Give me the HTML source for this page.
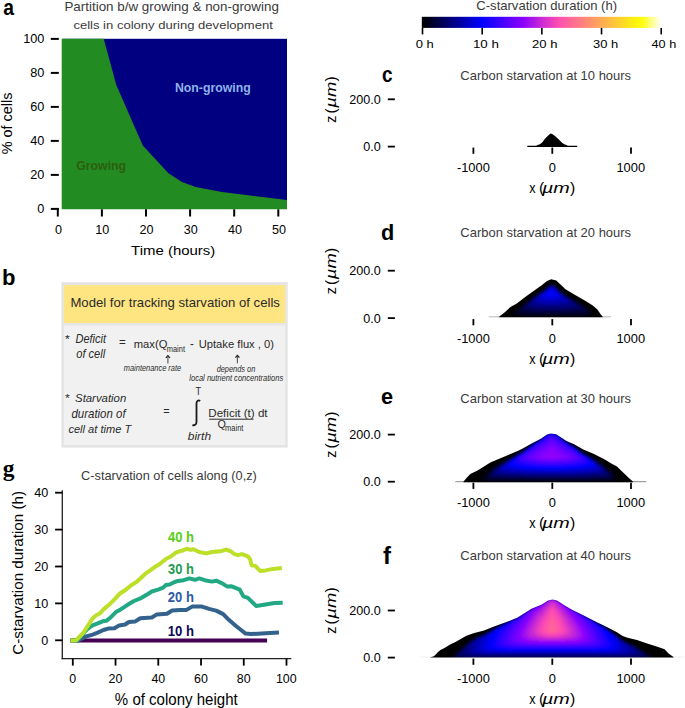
<!DOCTYPE html>
<html><head><meta charset="utf-8"><style>
html,body{margin:0;padding:0;background:#fff;}
svg{display:block;font-family:"Liberation Sans",sans-serif;}
</style></head><body>
<svg width="685" height="708" viewBox="0 0 685 708">
<defs><filter id="cblur" x="-5%" y="-20%" width="110%" height="140%"><feGaussianBlur stdDeviation="0.8"/></filter>
<clipPath id="clipc"><polygon points="536.0,146.4 537.3,145.1 540.0,144.2 542.6,142.0 544.3,139.4 547.4,136.3 550.5,133.4 552.2,134.0 555.3,136.3 558.8,139.4 562.3,142.9 564.9,144.6 567.1,145.3 567.5,146.4 567.5,147.0 536.0,147.0"/></clipPath>
<clipPath id="clipd"><polygon points="499.2,316.6 502.0,314.5 505.1,312.0 510.1,307.3 516.8,303.6 525.2,296.9 533.6,291.0 542.0,285.1 547.0,280.9 551.2,279.2 556.3,280.4 562.1,286.0 565.5,289.3 575.6,295.2 585.6,301.1 592.4,305.3 597.4,309.4 600.8,314.5 602.6,316.6 602.6,317.2 499.2,317.2"/></clipPath>
<clipPath id="clipe"><polygon points="463.4,481.7 466.5,477.9 470.3,474.0 478.0,470.2 490.3,462.6 501.0,458.0 511.7,453.4 520.9,449.5 531.6,443.4 540.8,438.8 547.0,434.5 550.8,433.4 556.2,434.2 561.9,438.0 566.5,441.1 574.1,444.2 583.3,449.5 594.0,454.1 604.8,459.5 610.9,463.3 617.0,466.4 621.6,471.0 627.8,477.1 633.1,481.7 633.1,482.2 463.4,482.2"/></clipPath>
<clipPath id="clipf"><polygon points="430.5,657.2 434.0,656.3 437.5,652.6 440.4,649.9 444.5,647.9 450.6,644.2 455.0,642.3 458.5,640.3 466.4,635.7 474.3,633.0 484.1,630.4 494.0,626.5 507.8,621.5 517.6,617.6 531.4,608.7 541.3,604.8 545.0,602.6 548.0,600.6 552.5,599.6 557.0,600.4 560.2,602.6 564.4,605.3 571.6,609.4 581.8,614.5 594.0,620.7 606.3,626.8 616.5,631.9 622.7,636.0 626.7,637.4 637.0,640.1 647.2,643.5 657.4,646.8 664.6,649.3 668.6,653.4 673.8,657.2 673.8,657.6 430.5,657.6"/></clipPath>
</defs>
<line x1="527.3" y1="146.4" x2="577.2" y2="146.4" stroke="#000" stroke-width="1.2"/>
<polygon points="536.0,146.4 537.3,145.1 540.0,144.2 542.6,142.0 544.3,139.4 547.4,136.3 550.5,133.4 552.2,134.0 555.3,136.3 558.8,139.4 562.3,142.9 564.9,144.6 567.1,145.3 567.5,146.4 567.5,147.0 536.0,147.0" fill="#000"/>
<line x1="488.8" y1="316.8" x2="611.0" y2="316.8" stroke="#b8b8b8" stroke-width="1.0"/>
<g clip-path="url(#clipd)"><g filter="url(#cblur)"><rect x="497.2" y="277.2" width="107.40000000000003" height="42.0" fill="#000004"/><path fill-rule="evenodd" fill="#000010" d="M511.9,314.4 512.1,315.4 514.1,315.9 576.4,316.1 591.1,315.9 592.9,315.4 593.1,313.6 592.1,312.1 588.4,308.6 562.9,292.9 554.1,284.6 552.9,284.1 551.1,284.1 548.4,285.6 543.9,289.4 529.9,299.4 518.9,308.4 513.9,311.4 512.9,312.4Z"/><path fill-rule="evenodd" fill="#000020" d="M514.1,312.9 514.1,314.1 514.6,314.4 521.9,314.9 584.4,314.9 590.6,314.4 591.1,313.9 590.9,312.4 588.1,309.4 578.1,302.6 562.9,293.4 553.9,284.9 551.9,284.4 549.4,285.4 543.9,289.9 532.9,297.6 519.4,308.9 515.9,311.1Z"/><path fill-rule="evenodd" fill="#00002c" d="M516.6,312.1 516.6,312.9 518.6,313.4 527.9,313.9 577.9,313.9 587.4,313.4 589.1,312.9 589.1,311.6 586.1,308.6 577.4,302.6 563.1,293.9 554.4,285.6 552.9,284.9 551.1,284.9 549.6,285.6 544.4,289.9 535.4,296.1 525.4,304.1Z"/><path fill-rule="evenodd" fill="#000038" d="M519.1,311.1 519.1,311.6 520.9,312.1 532.6,312.9 572.1,312.9 583.1,312.4 587.1,311.6 586.9,310.4 583.6,307.4 562.6,293.9 555.9,287.4 552.9,285.1 551.1,285.1 549.6,285.9 544.1,290.4 536.1,295.9 525.4,304.6Z"/><path fill-rule="evenodd" fill="#000044" d="M521.6,309.6 521.9,310.6 524.4,311.1 536.9,311.9 574.9,311.6 581.6,311.1 584.9,310.4 584.4,308.9 582.1,306.9 562.6,294.1 556.1,287.9 552.9,285.4 551.1,285.4 549.6,286.1 544.1,290.6 535.9,296.4 527.6,303.1 522.1,308.6Z"/><path fill-rule="evenodd" fill="#000050" d="M523.4,308.4 523.6,309.4 527.4,310.1 541.4,310.9 570.9,310.6 580.1,309.9 582.6,309.1 582.6,308.4 577.6,304.1 562.6,294.4 553.1,285.6 551.1,285.6 549.6,286.4 544.1,290.9 536.9,295.9 528.1,303.1Z"/><path fill-rule="evenodd" fill="#000060" d="M525.1,307.4 525.4,308.1 529.9,309.1 545.6,309.9 571.9,309.4 578.1,308.6 580.4,307.9 580.1,306.9 577.6,304.6 562.6,294.6 553.9,286.4 552.4,285.6 549.6,286.6 544.1,291.1 537.9,295.4 528.6,303.1 526.6,305.1Z"/><path fill-rule="evenodd" fill="#00006c" d="M526.9,306.6 527.6,307.1 532.6,308.1 550.1,308.9 568.4,308.4 575.1,307.6 578.1,306.6 577.6,305.4 575.6,303.6 562.6,294.9 558.9,291.6 556.4,288.9 552.6,285.9 551.6,285.9 549.6,286.9 546.1,289.9 536.6,296.6 531.9,300.6 527.4,305.1Z"/><path fill-rule="evenodd" fill="#000078" d="M528.6,304.9 529.1,305.9 533.1,306.9 542.6,307.6 565.1,307.4 572.1,306.6 575.9,305.4 575.9,304.9 573.9,302.9 561.6,294.4 553.9,286.9 552.6,286.1 551.4,286.1 550.4,286.6 545.1,290.9 538.9,295.1 532.6,300.4 529.4,303.6Z"/><path fill-rule="evenodd" fill="#000084" d="M530.4,303.6 530.4,304.4 534.1,305.6 545.6,306.6 556.4,306.6 565.4,306.1 570.6,305.4 573.6,304.4 573.6,303.6 571.6,301.6 561.6,294.6 552.9,286.4 551.4,286.4 550.4,286.9 544.4,291.6 538.9,295.4 533.9,299.6 531.1,302.4Z"/><path fill-rule="evenodd" fill="#000090" d="M532.1,302.1 532.4,303.4 535.1,304.4 540.1,305.1 548.6,305.6 562.6,305.1 568.1,304.4 571.4,303.1 571.4,302.4 569.1,300.1 561.6,294.9 552.9,286.6 551.1,286.6 549.9,287.4 547.4,289.6 538.6,295.9 534.9,299.1Z"/><path fill-rule="evenodd" fill="#0000a0" d="M569.4,301.4 567.9,299.6 561.6,295.1 552.9,286.9 551.9,286.6 549.9,287.6 547.4,289.9 538.4,296.4 534.1,300.6 533.9,301.9 536.4,303.1 540.1,303.9 545.6,304.4 556.1,304.4 566.6,303.1 569.1,302.1Z"/><path fill-rule="evenodd" fill="#0000ac" d="M567.4,300.1 565.1,297.9 561.9,295.6 552.9,287.1 551.6,286.9 539.6,295.6 535.9,299.4 535.4,300.6 536.9,301.6 540.6,302.6 548.4,303.4 553.6,303.4 564.1,302.1 566.9,301.1Z"/><path fill-rule="evenodd" fill="#0000b8" d="M565.4,299.1 563.9,297.4 552.4,287.1 550.6,287.6 546.1,291.4 541.6,294.4 537.1,298.9 537.1,299.4 537.9,300.1 540.4,301.1 550.9,302.4 560.6,301.4 563.4,300.6 564.9,299.9Z"/><path fill-rule="evenodd" fill="#0000c4" d="M563.4,298.1 555.6,290.1 552.4,287.4 550.6,287.9 547.1,290.9 541.1,295.1 538.9,297.6 538.9,298.4 540.9,299.6 543.6,300.4 549.4,301.1 552.9,301.1 559.4,300.1 561.1,299.6Z"/><path fill-rule="evenodd" fill="#0000d0" d="M561.4,296.9 559.9,294.6 552.1,287.6 550.1,288.6 547.6,290.9 542.6,294.4 540.6,296.4 540.6,297.4 542.9,298.6 548.9,299.9 553.4,299.9 556.4,299.4 559.6,298.4Z"/><path fill-rule="evenodd" fill="#0000e0" d="M559.6,295.4 552.6,288.4 551.6,288.1 543.6,294.1 542.4,295.4 542.4,296.1 544.1,297.4 547.6,298.4 553.4,298.6 558.4,297.1 559.6,296.1Z"/><path fill-rule="evenodd" fill="#0000ec" d="M557.9,294.9 553.4,290.1 551.6,289.1 544.6,294.6 544.6,295.4 546.6,296.6 551.4,297.6 556.4,296.4Z"/><path fill-rule="evenodd" fill="#0000f8" d="M554.9,294.4 552.9,292.1 551.4,291.6 547.9,294.6 547.9,295.1 550.4,296.1 552.6,296.1 554.6,295.4Z"/></g></g>
<line x1="455.3" y1="481.7" x2="646.2" y2="481.7" stroke="#8a8a8a" stroke-width="1.0"/>
<g clip-path="url(#clipe)"><g filter="url(#cblur)"><rect x="461.4" y="431.4" width="173.70000000000005" height="52.80000000000001" fill="#000004"/><path fill-rule="evenodd" fill="#000010" d="M616.9,478.1 615.6,475.4 613.6,472.4 602.4,463.6 591.9,456.9 581.9,451.6 572.9,445.4 567.1,442.4 556.9,434.4 553.4,433.1 550.1,432.9 546.9,434.1 540.1,439.6 532.9,443.9 522.6,451.1 492.4,467.6 485.6,473.4 481.6,477.4 480.6,478.9 480.9,480.1 482.6,480.9 488.6,481.4 610.6,481.4 614.1,481.1 616.1,480.4 616.9,479.6Z"/><path fill-rule="evenodd" fill="#000020" d="M614.9,477.6 614.4,475.9 612.9,473.1 601.4,463.6 591.9,457.4 581.6,451.9 573.1,445.9 566.6,442.4 556.6,434.4 551.1,432.9 547.1,434.1 540.1,439.9 534.1,443.4 522.4,451.6 493.6,467.6 487.9,472.6 485.1,475.6 483.9,477.9 483.9,478.9 484.9,479.9 486.9,480.4 494.4,480.6 606.1,480.6 613.1,480.1 614.4,479.4Z"/><path fill-rule="evenodd" fill="#00002c" d="M613.4,476.6 612.4,473.9 609.4,470.9 598.1,461.9 590.9,457.1 583.1,453.1 572.4,445.6 567.1,442.9 556.4,434.4 553.1,433.4 550.4,433.1 546.6,434.6 540.4,439.9 533.6,443.9 522.4,451.9 506.9,460.4 493.9,468.1 487.9,473.9 486.6,475.6 485.9,477.9 486.9,479.1 487.6,479.4 496.9,479.9 603.4,479.9 611.6,479.4 612.9,478.6Z"/><path fill-rule="evenodd" fill="#000038" d="M612.1,475.9 611.4,473.9 608.1,470.6 601.4,464.6 591.6,457.9 582.4,452.9 572.9,446.1 566.9,442.9 556.6,434.6 550.9,433.1 547.1,434.4 540.9,439.6 533.1,444.4 521.1,452.9 504.9,461.9 494.4,468.4 489.4,473.4 487.9,475.6 487.6,477.4 488.1,478.1 489.4,478.6 498.6,479.1 584.4,479.4 610.4,478.6 611.9,477.6Z"/><path fill-rule="evenodd" fill="#000044" d="M610.9,474.9 609.1,472.4 603.4,466.9 594.9,460.4 589.9,457.1 582.9,453.4 572.6,446.1 565.6,442.1 556.4,434.6 552.4,433.4 550.1,433.4 546.9,434.6 541.4,439.4 532.6,444.9 522.6,452.1 507.1,460.9 494.1,469.1 489.6,474.4 489.1,475.4 489.1,476.9 491.1,477.9 500.6,478.4 587.4,478.6 609.1,477.9 610.6,477.1Z"/><path fill-rule="evenodd" fill="#000050" d="M609.6,474.6 608.6,472.9 603.4,467.4 593.4,459.6 582.1,453.1 572.4,446.1 565.4,442.1 556.6,434.9 553.1,433.6 550.4,433.4 546.4,435.1 540.1,440.4 533.1,444.6 522.9,452.1 511.4,458.6 496.6,467.9 492.6,471.4 491.1,473.4 490.4,475.6 490.6,476.4 491.6,476.9 502.6,477.6 588.6,477.9 607.1,477.1 609.1,476.6 609.6,476.1Z"/><path fill-rule="evenodd" fill="#000060" d="M608.4,474.1 606.1,470.9 600.4,465.1 592.6,459.4 582.6,453.6 572.6,446.4 565.6,442.4 556.1,434.6 552.9,433.6 550.6,433.4 547.1,434.6 540.6,440.1 532.6,445.1 523.9,451.6 507.6,461.1 497.6,467.6 494.6,469.9 491.9,473.6 491.6,474.9 492.4,475.9 493.1,476.1 504.4,476.9 566.4,477.4 601.6,476.6 607.9,475.9 608.4,475.1Z"/><path fill-rule="evenodd" fill="#00006c" d="M607.1,474.1 606.1,471.9 604.6,469.9 599.9,465.1 592.6,459.6 588.4,456.9 583.1,454.1 573.9,447.4 565.1,442.1 556.4,434.9 551.1,433.4 546.9,434.9 540.4,440.4 533.1,444.9 524.4,451.4 510.9,459.4 500.4,466.1 494.6,470.6 493.4,472.4 492.9,474.4 493.9,475.1 497.4,475.6 530.9,476.6 588.6,476.4 602.9,475.6 606.1,475.1Z"/><path fill-rule="evenodd" fill="#000078" d="M605.6,472.6 603.4,469.1 599.1,464.9 590.9,458.6 582.9,454.1 573.4,447.1 565.4,442.4 556.4,434.9 553.4,433.9 550.1,433.6 546.6,435.1 540.9,440.1 532.9,445.1 521.6,453.4 514.9,457.1 502.4,465.1 495.1,470.9 494.1,472.6 494.1,473.6 495.4,474.4 499.6,474.9 514.6,475.6 576.1,475.9 600.9,474.9 604.6,474.4 605.6,473.6Z"/><path fill-rule="evenodd" fill="#000084" d="M604.4,471.6 602.6,468.9 600.1,466.1 591.6,459.4 582.6,454.1 573.9,447.6 565.9,442.9 556.6,435.1 553.1,433.9 550.4,433.6 547.1,434.9 540.6,440.4 533.4,444.9 521.9,453.4 513.1,458.4 504.6,463.9 498.9,468.1 495.6,471.4 495.4,472.9 496.1,473.4 499.4,473.9 515.4,474.9 577.6,475.1 593.1,474.6 601.4,473.9 603.9,473.4 604.4,472.9Z"/><path fill-rule="evenodd" fill="#000090" d="M603.4,471.4 602.4,469.4 599.4,465.9 590.6,458.9 582.4,454.1 573.4,447.4 566.1,443.1 556.1,434.9 552.9,433.9 550.6,433.6 547.6,434.6 541.4,439.9 533.9,444.6 524.6,451.6 514.6,457.6 504.4,464.4 500.1,467.6 497.1,470.6 496.6,471.6 497.1,472.4 499.6,472.9 510.9,473.9 525.1,474.4 561.6,474.6 578.6,474.4 595.4,473.6 602.4,472.6 603.4,471.9Z"/><path fill-rule="evenodd" fill="#0000a0" d="M602.1,470.4 600.9,468.1 598.6,465.6 590.6,459.1 583.4,454.9 573.9,447.9 565.6,442.9 556.4,435.1 550.9,433.6 547.4,434.9 541.1,440.1 532.6,445.6 524.1,452.1 514.9,457.6 505.9,463.6 501.6,466.9 498.6,469.9 498.4,471.1 499.1,471.6 503.6,472.4 517.4,473.4 537.9,473.9 565.9,473.9 593.9,472.9 600.6,471.9 601.9,471.4Z"/><path fill-rule="evenodd" fill="#0000ac" d="M499.9,469.6 500.4,470.6 510.4,472.1 535.4,473.1 568.4,473.1 585.1,472.6 594.6,471.9 599.1,471.1 600.9,470.4 600.9,469.1 599.4,466.9 591.4,459.9 580.1,452.9 571.9,446.6 565.9,443.1 556.6,435.4 552.4,433.9 549.1,434.1 546.4,435.6 540.9,440.4 533.1,445.4 524.6,451.9 513.6,458.6 505.6,464.1 501.6,467.4Z"/><path fill-rule="evenodd" fill="#0000b8" d="M501.4,468.9 501.9,469.6 509.6,471.1 533.9,472.4 569.6,472.4 584.1,471.9 594.6,470.9 598.4,470.1 599.9,469.4 599.9,468.6 598.4,466.4 590.4,459.4 580.6,453.4 572.1,446.9 565.4,442.9 556.9,435.6 555.6,434.9 552.1,433.9 550.4,433.9 547.1,435.1 541.4,440.1 533.6,445.1 524.1,452.4 516.6,456.9 506.4,463.9 503.6,466.1Z"/><path fill-rule="evenodd" fill="#0000c4" d="M502.9,468.1 503.9,468.9 506.6,469.6 516.6,470.9 533.1,471.6 557.1,471.9 577.9,471.4 589.4,470.6 597.6,469.1 598.6,468.4 598.6,467.6 597.4,465.9 591.4,460.4 581.1,453.9 573.4,447.9 565.6,443.1 556.4,435.4 552.9,434.1 550.4,433.9 546.9,435.4 541.1,440.4 533.4,445.4 522.9,453.4 516.9,456.9 508.1,462.9 503.4,467.1Z"/><path fill-rule="evenodd" fill="#0000d0" d="M504.6,466.6 504.6,467.4 505.1,467.9 513.1,469.6 526.4,470.6 543.1,471.1 560.6,471.1 581.9,470.4 592.9,469.1 595.9,468.4 597.4,467.4 596.4,465.4 589.4,459.1 581.6,454.4 572.9,447.6 565.1,442.9 556.4,435.4 551.4,433.9 547.4,435.1 541.9,439.9 533.9,445.1 524.1,452.6 517.1,456.9 508.9,462.6Z"/><path fill-rule="evenodd" fill="#0000e0" d="M506.1,465.9 506.1,466.4 507.1,467.1 514.9,468.9 527.1,469.9 541.1,470.4 562.6,470.4 580.6,469.6 589.9,468.6 593.4,467.9 595.9,466.6 595.9,465.9 595.1,464.6 589.4,459.4 579.6,453.1 572.4,447.4 566.4,443.9 556.9,435.9 555.1,434.9 552.4,434.1 550.1,434.1 547.1,435.4 541.4,440.4 533.6,445.4 523.6,453.1 511.6,460.9 508.1,463.6Z"/><path fill-rule="evenodd" fill="#0000ec" d="M507.6,465.4 509.1,466.4 511.4,467.1 516.6,468.1 523.9,468.9 539.9,469.6 563.9,469.6 579.6,468.9 589.6,467.6 593.1,466.6 594.6,465.6 594.1,464.1 588.4,458.9 580.1,453.6 572.9,447.9 565.9,443.6 556.1,435.4 551.9,434.1 549.4,434.4 546.9,435.6 541.1,440.6 532.1,446.6 523.1,453.6 517.6,456.9 511.4,461.4 507.9,464.6Z"/><path fill-rule="evenodd" fill="#0000f8" d="M509.4,463.9 509.6,464.9 511.6,465.9 520.1,467.6 533.1,468.6 550.4,469.1 570.6,468.6 581.1,467.9 590.1,466.4 593.4,464.6 591.6,461.9 589.4,459.9 579.9,453.6 573.4,448.4 565.4,443.4 556.6,435.9 555.4,435.1 551.6,434.1 549.6,434.4 547.4,435.4 540.6,441.1 533.6,445.6 521.9,454.6 515.4,458.6 512.1,461.1Z"/><path fill-rule="evenodd" fill="#0400ff" d="M510.9,463.4 511.9,464.4 515.1,465.6 521.6,466.9 533.6,467.9 547.9,468.4 564.9,468.1 579.9,467.1 587.6,465.9 589.9,465.1 591.9,463.9 591.9,463.1 590.9,461.6 586.4,457.9 580.4,454.1 572.1,447.6 565.9,443.9 556.1,435.6 552.4,434.4 549.9,434.4 546.9,435.9 541.1,440.9 533.9,445.6 524.6,452.9 515.4,458.9 512.6,461.1Z"/><path fill-rule="evenodd" fill="#0d00ff" d="M512.6,462.1 512.6,462.6 513.4,463.4 515.4,464.4 521.4,465.9 533.9,467.1 546.1,467.6 564.9,467.4 578.4,466.4 587.6,464.6 589.6,463.6 590.6,462.6 589.9,461.1 586.4,458.1 580.1,454.1 571.9,447.6 565.6,443.9 556.6,436.1 555.4,435.4 551.9,434.4 550.4,434.4 547.4,435.6 541.4,440.9 534.4,445.4 524.9,452.9 516.4,458.4Z"/><path fill-rule="evenodd" fill="#1a00ff" d="M514.4,460.9 514.6,462.1 515.6,462.9 519.4,464.4 522.9,465.1 534.4,466.4 545.1,466.9 564.9,466.6 577.1,465.6 584.1,464.4 586.4,463.6 589.1,461.9 588.9,460.9 586.6,458.6 579.1,453.6 572.6,448.4 565.4,443.9 556.4,436.1 552.4,434.6 550.1,434.6 547.6,435.6 541.6,440.9 533.6,446.1 523.4,454.1 517.4,457.9Z"/><path fill-rule="evenodd" fill="#2300ff" d="M515.9,460.1 515.9,460.6 517.4,462.1 523.1,464.1 532.1,465.4 544.6,466.1 558.4,466.1 573.9,465.1 582.4,463.6 586.1,462.1 587.4,460.9 586.9,459.4 584.6,457.4 580.9,455.1 571.6,447.9 565.4,444.1 555.6,435.9 551.1,434.6 547.4,436.1 541.6,441.1 534.4,445.9 525.1,453.1 518.1,457.6Z"/><path fill-rule="evenodd" fill="#2d00ff" d="M517.6,458.9 517.6,459.9 519.1,461.4 521.1,462.4 524.6,463.4 533.1,464.6 544.1,465.4 558.9,465.4 572.9,464.4 582.4,462.4 584.4,461.4 585.9,459.9 585.6,458.9 584.1,457.4 580.1,454.9 572.9,449.1 565.1,444.4 555.9,436.6 551.1,435.1 548.1,436.1 541.6,441.6 533.9,446.6 524.9,453.6 518.6,457.6Z"/><path fill-rule="evenodd" fill="#3600ff" d="M519.4,457.9 519.4,459.1 520.9,460.6 525.1,462.4 533.9,463.9 544.1,464.6 558.9,464.6 571.9,463.6 577.4,462.6 580.6,461.6 582.6,460.6 584.1,458.9 584.1,458.1 583.1,457.1 578.9,454.4 572.1,449.1 564.4,444.6 555.6,437.4 552.1,436.1 550.1,436.1 548.4,436.9 542.1,442.1 534.9,446.6 524.9,454.1 520.6,456.6Z"/><path fill-rule="evenodd" fill="#3f00ff" d="M521.1,457.4 521.1,458.4 522.9,460.1 528.6,462.1 537.1,463.4 550.6,464.1 563.4,463.6 573.9,462.4 579.6,460.6 580.9,459.9 582.4,458.1 582.4,457.6 581.1,456.4 578.9,455.1 571.9,449.9 563.4,444.9 555.4,438.1 551.4,436.9 548.4,437.9 542.9,442.6 534.9,447.6Z"/><path fill-rule="evenodd" fill="#4c00ff" d="M523.1,457.1 523.1,458.1 524.1,459.1 525.9,460.1 529.9,461.4 537.9,462.6 549.9,463.4 562.6,462.9 571.4,461.9 577.6,460.1 579.4,459.1 580.4,457.9 580.4,457.1 571.4,450.6 562.9,445.6 555.1,439.1 551.6,437.9 550.6,437.9 548.9,438.6 543.4,443.4 535.4,448.4Z"/><path fill-rule="evenodd" fill="#5500ff" d="M525.1,457.1 525.1,457.9 526.4,458.9 532.1,460.9 538.6,461.9 549.6,462.6 562.1,462.1 568.9,461.4 574.4,460.1 577.1,458.9 578.4,457.9 578.4,457.1 577.4,456.1 569.9,450.9 562.9,446.9 554.9,440.1 552.4,439.1 550.1,439.1 549.1,439.6 543.6,444.4 534.6,450.1Z"/><path fill-rule="evenodd" fill="#5f00ff" d="M527.1,457.1 527.9,458.1 533.1,460.1 539.4,461.1 549.6,461.9 557.6,461.6 567.9,460.6 573.9,459.1 576.4,457.6 576.1,456.6 569.4,451.9 563.1,448.4 554.4,441.1 551.6,440.1 549.4,440.9 544.1,445.4 536.9,449.9Z"/><path fill-rule="evenodd" fill="#6800ff" d="M529.4,457.1 529.6,457.6 531.1,458.4 535.4,459.6 540.1,460.4 549.9,461.1 557.1,460.9 566.9,459.9 572.6,458.4 574.1,457.4 573.6,456.4 570.9,454.4 562.4,449.4 554.9,443.1 552.1,441.6 550.1,441.9 544.9,446.4 535.9,452.1Z"/><path fill-rule="evenodd" fill="#7100ff" d="M532.1,456.9 532.1,457.4 533.6,458.1 537.9,459.1 549.9,460.4 564.1,459.4 569.1,458.4 571.6,457.1 571.1,456.4 560.6,449.9 555.1,445.1 551.9,443.1 550.6,443.4 545.6,447.6 536.6,453.4Z"/><path fill-rule="evenodd" fill="#7e00ff" d="M535.1,457.1 536.6,457.9 541.9,458.9 552.9,459.6 565.9,458.1 567.6,457.6 568.6,456.9 560.1,451.6 552.6,445.4 551.4,445.1 546.1,449.4 537.1,455.1Z"/><path fill-rule="evenodd" fill="#8700ff" d="M538.9,456.6 538.9,457.1 541.4,457.9 550.9,458.9 559.9,458.1 562.9,457.6 564.4,456.9 558.6,453.1 552.4,447.9 550.9,448.1 547.6,450.9Z"/><path fill-rule="evenodd" fill="#9106f9" d="M558.9,456.6 552.9,451.6 551.4,451.4 544.4,456.1 543.9,456.9 546.4,457.6 551.9,458.1 557.9,457.4Z"/><path fill-rule="evenodd" fill="#9a0cf3" d="M551.1,456.4 551.4,456.9 552.6,456.6 552.1,456.1Z"/></g></g>
<line x1="420.0" y1="657.0" x2="684.0" y2="657.0" stroke="#eeeeee" stroke-width="1.0"/>
<g clip-path="url(#clipf)"><g filter="url(#cblur)"><rect x="428.5" y="597.6" width="247.29999999999995" height="62.0" fill="#000004"/><path fill-rule="evenodd" fill="#000010" d="M450.9,656.9 450.9,657.4 454.6,658.1 649.1,658.1 653.1,657.6 653.9,657.1 648.6,653.4 636.4,646.1 626.4,641.9 622.1,639.6 614.9,633.9 605.9,628.1 586.9,616.9 571.1,608.4 559.1,600.6 557.1,599.6 553.1,598.6 548.1,599.6 541.4,603.9 531.1,608.1 517.4,617.6 497.6,626.9 484.1,634.1 476.9,636.9 468.4,641.6 459.9,648.9 455.1,652.4Z"/><path fill-rule="evenodd" fill="#000020" d="M452.4,656.6 452.6,657.4 455.1,657.9 648.1,657.9 651.9,657.1 649.4,654.9 638.9,648.1 622.4,640.1 614.1,633.6 593.9,621.1 570.9,608.4 558.4,600.4 553.4,598.9 551.9,598.9 547.4,600.1 542.1,603.6 531.1,608.4 516.9,618.1 497.6,627.1 487.1,632.9 476.1,637.6 471.6,640.1 466.4,643.9 456.1,652.6Z"/><path fill-rule="evenodd" fill="#00002c" d="M650.4,656.9 647.9,654.6 636.4,647.1 627.1,642.9 621.1,639.6 614.9,634.4 593.6,621.1 570.6,608.4 557.1,599.9 552.9,598.9 548.1,599.9 541.9,603.9 530.9,608.6 517.1,618.1 502.1,625.1 483.6,634.9 474.9,638.6 467.6,643.4 457.1,652.6 453.4,656.6 453.4,657.1 455.1,657.6 648.1,657.6Z"/><path fill-rule="evenodd" fill="#000038" d="M454.4,656.6 455.4,657.4 647.9,657.4 649.1,656.9 647.1,654.9 637.4,648.1 622.4,640.6 614.6,634.4 598.9,624.4 583.9,615.6 570.9,608.6 558.9,600.9 556.9,599.9 553.6,599.1 551.6,599.1 548.4,599.9 541.6,604.1 531.9,608.1 518.1,617.6 492.9,629.9 484.1,634.9 475.4,638.6 468.1,643.4 457.1,653.4Z"/><path fill-rule="evenodd" fill="#000044" d="M647.9,656.6 644.9,653.9 636.4,647.9 621.6,640.4 614.4,634.4 597.9,623.9 582.4,614.9 571.6,609.1 558.4,600.6 553.4,599.1 551.9,599.1 547.9,600.1 542.6,603.6 531.6,608.4 517.9,617.9 493.1,629.9 483.4,635.4 475.4,638.9 469.1,642.9 463.6,647.9 456.1,655.4 455.4,656.6 456.1,657.1 466.4,657.4 637.4,657.4 647.1,657.1Z"/><path fill-rule="evenodd" fill="#000050" d="M646.4,656.6 646.1,655.9 644.6,654.4 638.4,649.6 633.1,646.4 625.1,642.6 621.4,640.4 614.1,634.4 601.4,626.1 581.4,614.4 570.6,608.6 558.6,600.9 556.4,599.9 553.1,599.1 548.1,600.1 541.9,604.1 530.9,608.9 517.6,618.1 493.4,629.9 484.9,634.9 475.4,639.1 469.6,642.9 457.9,654.4 456.6,656.4 457.6,656.9 465.9,657.1 638.1,657.1Z"/><path fill-rule="evenodd" fill="#000060" d="M644.6,655.6 641.4,652.4 636.4,648.6 621.9,640.9 614.4,634.6 599.6,625.1 582.1,614.9 571.4,609.1 558.1,600.6 552.9,599.1 547.6,600.4 542.4,603.9 531.4,608.6 518.1,617.9 496.4,628.4 485.6,634.6 475.4,639.4 468.6,644.1 462.4,650.4 458.6,655.1 458.6,655.9 462.1,656.6 641.9,656.6 644.1,656.4Z"/><path fill-rule="evenodd" fill="#00006c" d="M460.9,653.9 461.6,655.4 465.4,656.1 484.6,656.4 618.9,656.4 638.6,656.1 641.9,655.6 642.6,654.9 639.6,651.6 636.1,648.9 622.4,641.4 614.1,634.6 605.9,629.1 586.9,617.6 570.9,608.9 558.4,600.9 553.9,599.4 551.4,599.4 548.4,600.1 542.1,604.1 531.1,608.9 517.9,618.1 495.1,629.1 485.9,634.6 475.4,639.6 469.9,643.4 464.6,648.6 462.1,651.6Z"/><path fill-rule="evenodd" fill="#000078" d="M463.6,651.9 463.6,653.9 464.6,654.9 469.1,655.6 634.6,655.6 638.6,655.1 640.1,654.1 639.9,652.9 635.1,648.6 622.9,641.9 619.4,639.4 613.6,634.4 603.4,627.6 587.6,618.1 571.6,609.4 558.4,600.9 553.6,599.4 551.6,599.4 547.9,600.4 542.1,604.1 531.6,608.6 518.4,617.9 494.9,629.4 486.1,634.6 476.6,639.1 470.1,643.6 465.6,648.4Z"/><path fill-rule="evenodd" fill="#000084" d="M637.4,651.6 634.4,648.6 622.6,641.9 612.4,633.6 597.6,624.1 581.4,614.6 570.6,608.9 557.9,600.6 553.4,599.4 551.9,599.4 548.6,600.1 541.4,604.6 532.1,608.4 517.6,618.4 494.1,629.9 485.1,635.4 475.9,639.9 470.1,644.1 468.1,646.4 466.6,649.1 466.1,652.6 466.4,653.4 467.6,654.4 473.1,655.1 630.4,655.1 636.1,654.4 637.4,653.4Z"/><path fill-rule="evenodd" fill="#000090" d="M634.9,651.4 634.1,649.4 631.4,647.1 621.1,641.1 613.6,634.6 601.1,626.4 584.4,616.4 570.6,608.9 558.6,601.1 556.4,600.1 553.1,599.4 548.1,600.4 542.4,604.1 531.4,608.9 518.1,618.1 497.1,628.4 485.9,635.1 477.6,639.1 472.6,642.6 470.4,644.9 468.9,649.6 468.9,652.6 469.9,653.6 473.4,654.4 477.4,654.6 626.1,654.6 633.1,653.9 634.6,652.9Z"/><path fill-rule="evenodd" fill="#0000a0" d="M632.1,650.4 631.6,648.6 630.4,647.1 620.9,641.1 614.1,635.1 604.1,628.4 586.9,617.9 570.9,609.1 558.1,600.9 553.1,599.4 548.1,600.4 542.4,604.1 531.9,608.6 517.4,618.6 496.4,628.9 486.1,635.1 477.4,639.6 473.1,643.4 471.4,648.6 471.4,651.9 471.9,652.6 474.6,653.6 482.1,654.1 621.4,654.1 626.6,653.9 630.6,653.1 631.9,652.1Z"/><path fill-rule="evenodd" fill="#0000ac" d="M629.4,649.4 627.6,645.9 620.9,641.4 612.9,634.4 604.4,628.6 587.6,618.4 570.9,609.1 557.6,600.6 552.4,599.4 548.4,600.4 541.6,604.6 531.1,609.1 518.4,618.1 495.6,629.4 485.6,635.6 478.9,639.1 476.6,640.9 475.4,643.1 473.9,647.9 473.6,650.4 474.6,652.1 476.4,652.9 487.1,653.6 616.4,653.6 626.9,652.9 629.1,651.6Z"/><path fill-rule="evenodd" fill="#0000b8" d="M476.1,648.9 476.4,650.6 477.4,651.6 479.4,652.4 483.9,652.9 493.1,653.1 610.6,653.1 619.4,652.9 623.6,652.4 625.9,651.6 626.6,650.9 626.9,649.9 625.4,645.4 611.6,633.6 593.9,622.1 571.6,609.6 558.4,601.1 553.9,599.6 551.4,599.6 548.4,600.4 542.1,604.4 531.6,608.9 518.9,617.9 495.4,629.6 486.4,635.4 480.6,638.6 478.6,640.9 476.9,645.4Z"/><path fill-rule="evenodd" fill="#0000c4" d="M624.1,648.1 622.1,643.4 614.6,636.1 609.6,632.4 596.6,623.9 579.1,613.6 571.1,609.4 557.9,600.9 554.9,599.9 551.6,599.6 547.9,600.6 542.6,604.1 532.1,608.6 518.1,618.4 495.6,629.6 483.1,637.6 481.9,639.1 479.9,643.4 478.9,646.4 478.6,649.4 479.6,650.9 481.4,651.6 487.9,652.4 603.6,652.6 615.6,652.4 621.9,651.6 623.9,650.4Z"/><path fill-rule="evenodd" fill="#0000d0" d="M621.6,647.4 619.1,641.4 616.9,638.6 613.1,635.1 606.9,630.6 588.6,619.1 569.4,608.4 557.9,600.9 553.6,599.6 551.6,599.6 548.6,600.4 541.9,604.6 531.4,609.1 517.4,618.9 499.1,627.9 489.9,633.4 486.9,635.6 484.4,638.6 481.6,644.9 481.1,648.6 481.4,649.4 483.4,650.9 491.6,651.9 591.9,652.1 612.1,651.9 617.6,651.4 620.4,650.6 621.6,649.1Z"/><path fill-rule="evenodd" fill="#0000e0" d="M619.1,646.4 617.9,642.6 615.6,638.1 613.6,635.9 607.4,631.1 591.9,621.1 571.4,609.6 558.1,601.1 555.6,600.1 551.9,599.6 548.6,600.4 542.4,604.4 531.9,608.9 517.9,618.6 499.4,627.9 491.9,632.4 489.9,633.9 487.6,636.6 484.4,643.4 483.6,646.1 483.6,648.1 484.6,649.6 486.4,650.4 488.6,650.9 495.6,651.4 608.4,651.4 614.9,650.9 617.6,650.1 619.1,648.9Z"/><path fill-rule="evenodd" fill="#0000ec" d="M616.9,645.6 614.9,639.9 612.9,636.1 610.4,633.6 606.4,630.6 593.4,622.1 570.9,609.4 558.1,601.1 556.4,600.4 552.1,599.6 548.1,600.6 542.4,604.4 532.4,608.6 518.9,618.1 502.9,626.1 493.9,631.4 491.1,634.1 488.1,639.6 486.4,644.1 486.1,647.6 486.6,648.6 490.1,650.1 499.9,650.9 604.4,650.9 611.9,650.4 615.1,649.6 616.9,647.9Z"/><path fill-rule="evenodd" fill="#0000f8" d="M614.6,644.6 613.4,640.6 610.9,635.6 607.6,631.9 604.6,629.6 590.4,620.4 570.4,609.1 557.6,600.9 552.1,599.6 548.9,600.4 541.6,604.9 531.6,609.1 518.1,618.6 504.6,625.4 497.1,629.6 494.4,632.1 492.1,635.6 489.6,640.9 488.6,644.1 488.4,646.4 488.9,647.6 489.9,648.6 491.9,649.4 497.6,650.1 504.4,650.4 599.9,650.4 609.1,649.9 612.6,649.1 613.6,648.6 614.6,647.4Z"/><path fill-rule="evenodd" fill="#0400ff" d="M612.6,644.4 611.4,640.1 608.4,634.4 606.9,632.1 602.9,628.6 591.9,621.4 571.1,609.6 558.4,601.4 556.1,600.4 552.4,599.6 548.4,600.6 542.1,604.6 532.1,608.9 518.6,618.4 505.4,625.1 499.1,628.9 496.4,631.9 493.1,637.4 491.4,641.6 490.9,643.6 490.9,646.4 492.4,648.1 493.6,648.6 501.1,649.6 595.4,649.9 606.1,649.4 610.1,648.6 612.1,647.4 612.6,646.4Z"/><path fill-rule="evenodd" fill="#0d00ff" d="M610.6,644.4 609.6,640.4 607.6,636.1 604.4,630.9 601.4,627.9 592.1,621.6 570.6,609.4 557.9,601.1 552.6,599.6 548.4,600.6 542.6,604.4 531.4,609.4 518.4,618.6 510.9,622.4 502.1,627.4 499.9,629.6 496.4,634.9 494.6,638.4 493.1,642.9 493.1,645.6 493.6,646.6 494.9,647.6 496.4,648.1 500.9,648.9 514.6,649.4 599.6,649.1 605.4,648.6 608.4,647.9 609.6,647.1 610.4,646.1Z"/><path fill-rule="evenodd" fill="#1a00ff" d="M495.4,641.9 495.4,645.1 496.9,646.9 501.6,648.1 508.4,648.6 596.1,648.6 605.1,647.6 607.4,646.6 608.4,645.1 608.4,642.6 606.4,637.1 601.9,629.6 599.1,626.6 591.1,621.1 570.1,609.1 557.9,601.1 553.6,599.9 551.6,599.9 547.9,600.9 541.9,604.9 531.9,609.1 518.1,618.9 505.9,625.4 502.9,628.1 499.1,633.4 496.9,637.6Z"/><path fill-rule="evenodd" fill="#2300ff" d="M497.4,642.4 497.9,645.1 499.9,646.6 504.6,647.6 512.1,648.1 592.4,648.1 599.6,647.6 603.4,646.9 605.4,645.9 606.4,644.1 605.9,640.4 603.9,635.6 599.9,629.1 595.6,624.4 585.6,617.9 569.6,608.9 558.1,601.4 553.6,599.9 551.6,599.9 548.6,600.6 542.4,604.6 531.6,609.4 517.9,619.1 511.9,622.1 507.6,624.9 503.9,629.1 501.1,633.1 498.4,638.6Z"/><path fill-rule="evenodd" fill="#2d00ff" d="M499.6,641.4 499.9,644.1 500.6,645.1 502.4,646.1 507.4,647.1 516.1,647.6 588.6,647.6 599.9,646.6 602.6,645.6 604.1,643.9 603.9,640.1 601.6,634.6 598.1,628.9 593.6,623.4 586.6,618.6 569.1,608.6 558.1,601.4 553.4,599.9 551.9,599.9 548.1,600.9 542.9,604.4 532.1,609.1 518.9,618.6 511.6,622.6 507.9,626.4 504.4,630.9 501.1,636.6Z"/><path fill-rule="evenodd" fill="#3600ff" d="M501.9,640.1 502.1,643.6 504.4,645.4 510.4,646.6 520.1,647.1 590.9,646.9 595.9,646.4 599.9,645.4 601.4,644.4 602.1,642.9 601.9,639.6 599.1,633.1 595.1,626.9 590.4,621.4 580.6,615.1 570.6,609.6 557.6,601.1 553.4,599.9 551.9,599.9 548.1,600.9 542.1,604.9 532.6,608.9 519.1,618.6 513.4,622.1 509.1,626.9 505.4,632.1 503.1,636.4Z"/><path fill-rule="evenodd" fill="#3f00ff" d="M600.1,640.4 598.9,636.1 596.4,631.1 591.1,623.6 587.4,619.6 577.9,613.6 570.1,609.4 558.4,601.6 555.4,600.4 552.1,599.9 548.4,600.9 542.6,604.6 531.9,609.4 516.4,620.6 512.6,624.6 507.6,631.4 505.1,636.1 504.1,639.1 503.9,641.4 504.4,643.1 506.1,644.6 508.4,645.4 513.4,646.1 524.6,646.6 580.4,646.6 591.1,646.1 596.9,645.1 599.4,643.6 600.1,641.9Z"/><path fill-rule="evenodd" fill="#4c00ff" d="M598.1,640.1 596.6,634.9 593.4,628.9 588.6,622.4 584.6,618.1 579.4,614.6 569.6,609.1 557.9,601.4 556.1,600.6 552.4,599.9 548.4,600.9 541.9,605.1 531.6,609.6 521.1,617.4 514.9,623.9 509.9,630.6 507.1,635.9 506.1,639.1 506.1,641.4 506.6,642.6 508.6,644.1 510.9,644.9 516.4,645.6 529.1,646.1 575.6,646.1 588.1,645.6 594.4,644.6 596.6,643.6 597.4,642.9Z"/><path fill-rule="evenodd" fill="#5500ff" d="M595.9,637.9 594.1,633.1 592.1,629.4 586.4,621.4 581.6,616.4 569.9,609.4 557.4,601.1 552.6,599.9 547.9,601.1 542.4,604.9 532.6,609.1 522.9,616.4 515.6,624.9 512.4,629.4 509.4,634.9 508.1,639.9 508.4,641.1 509.6,642.9 511.6,643.9 516.9,644.9 534.4,645.6 570.6,645.6 585.1,645.1 591.9,644.1 594.4,643.1 595.6,641.9Z"/><path fill-rule="evenodd" fill="#5f00ff" d="M510.4,637.9 510.6,640.9 511.6,642.1 513.4,643.1 519.6,644.4 527.6,644.9 564.9,645.1 582.1,644.6 587.1,644.1 591.1,643.1 593.1,641.9 593.9,640.6 593.6,636.4 591.4,630.9 588.1,625.6 582.6,618.6 578.9,614.9 570.1,609.6 558.1,601.6 553.6,600.1 551.6,600.1 547.6,601.4 541.6,605.4 532.4,609.4 526.4,613.9 523.1,617.4 515.4,627.4 511.6,633.9Z"/><path fill-rule="evenodd" fill="#6800ff" d="M512.4,637.9 512.6,639.9 513.9,641.6 515.1,642.4 518.6,643.4 525.6,644.1 546.9,644.6 573.6,644.4 584.4,643.6 588.1,642.9 590.6,641.6 591.9,639.9 592.1,638.4 590.9,633.4 587.1,626.4 581.9,619.4 576.4,613.6 557.6,601.4 553.4,600.1 551.9,600.1 548.1,601.1 542.6,604.9 533.1,609.1 529.6,611.6 525.4,616.1 515.9,629.1 513.9,632.9Z"/><path fill-rule="evenodd" fill="#7100ff" d="M514.6,636.1 514.6,639.1 515.1,640.1 516.1,641.1 518.1,642.1 522.9,643.1 535.1,643.9 569.9,643.9 579.6,643.4 587.1,641.9 589.6,639.9 590.1,638.1 589.6,634.6 587.6,629.9 583.4,623.1 578.1,616.6 572.6,611.4 557.9,601.6 553.4,600.1 548.9,600.9 541.9,605.4 533.1,609.4 531.1,610.9 524.4,619.1 517.4,629.4 515.6,632.9Z"/><path fill-rule="evenodd" fill="#7e00ff" d="M516.6,635.4 516.6,638.4 517.1,639.4 518.4,640.6 519.9,641.4 525.6,642.6 539.1,643.4 565.9,643.4 579.1,642.6 583.4,641.9 586.4,640.6 587.4,639.6 588.1,637.9 587.6,633.9 585.6,629.1 581.4,622.4 576.1,615.9 570.9,610.6 557.9,601.6 553.1,600.1 548.4,601.1 541.1,605.9 533.9,609.4 529.6,613.9 523.6,622.1 518.6,630.1Z"/><path fill-rule="evenodd" fill="#8700ff" d="M586.1,634.9 585.4,632.1 583.6,628.4 579.4,621.6 574.1,615.1 569.1,609.9 566.1,607.4 558.1,601.9 555.9,600.9 552.4,600.1 547.6,601.6 541.4,605.9 537.1,607.9 531.9,612.6 527.9,617.9 520.9,629.1 518.9,633.9 518.6,637.6 519.9,639.6 522.1,640.9 528.4,642.1 543.1,642.9 569.6,642.6 578.4,641.9 582.6,640.9 584.9,639.6 586.1,637.4Z"/><path fill-rule="evenodd" fill="#9106f9" d="M520.6,634.1 520.6,636.9 521.1,638.1 522.4,639.4 523.9,640.1 529.1,641.4 538.6,642.1 557.1,642.4 573.9,641.6 580.4,640.4 582.4,639.4 583.6,638.1 584.1,636.9 583.9,632.9 581.4,627.1 577.4,620.9 573.6,616.1 567.1,608.9 564.6,606.6 557.1,601.4 553.6,600.4 551.6,600.4 547.4,601.9 537.9,608.1 533.1,612.6 529.4,617.6 525.4,623.9 521.9,630.4Z"/><path fill-rule="evenodd" fill="#9a0cf3" d="M522.6,633.4 522.6,636.4 523.9,638.4 526.1,639.6 531.6,640.9 541.9,641.6 562.9,641.6 573.4,640.9 578.1,639.9 579.9,639.1 581.6,637.6 582.4,635.4 581.9,631.9 579.4,626.4 572.9,616.9 563.1,605.9 557.4,601.6 553.4,600.4 549.9,600.9 546.9,602.4 540.4,607.1 533.4,613.9 529.4,619.6 525.9,625.6 523.6,630.1Z"/><path fill-rule="evenodd" fill="#a312ed" d="M524.6,632.4 524.6,635.9 526.4,638.1 531.1,639.9 539.9,640.9 559.4,641.1 570.6,640.4 575.9,639.4 578.1,638.4 579.6,637.1 580.4,635.4 580.4,632.9 579.6,630.1 575.9,623.1 571.9,617.4 566.1,610.4 560.1,603.9 555.9,601.1 552.9,600.4 549.4,601.1 547.1,602.4 535.6,612.9 533.4,615.6 529.1,622.4 525.6,629.4Z"/><path fill-rule="evenodd" fill="#b01ae5" d="M526.4,632.6 526.4,634.4 527.1,636.4 529.9,638.4 534.9,639.6 542.9,640.4 555.9,640.6 570.1,639.6 575.6,638.1 577.4,636.9 578.4,635.1 578.4,631.6 577.9,629.9 575.4,624.9 570.6,617.6 565.1,610.6 557.4,602.1 553.4,600.6 549.9,601.1 547.9,602.1 536.4,613.6 530.9,621.9 527.6,628.4Z"/><path fill-rule="evenodd" fill="#b920df" d="M576.6,631.6 575.9,629.1 572.6,622.9 564.9,611.9 556.4,602.1 552.6,600.6 549.1,601.9 535.6,616.4 532.6,621.4 529.1,628.6 528.4,630.9 528.4,634.4 529.1,635.9 530.6,637.1 535.9,638.9 545.9,639.9 558.9,639.9 567.6,639.1 572.9,637.9 574.4,637.1 576.1,635.4 576.6,633.9Z"/><path fill-rule="evenodd" fill="#c326d9" d="M530.1,630.4 530.1,633.4 530.9,635.1 531.9,636.1 534.1,637.4 539.9,638.6 549.1,639.4 562.9,638.9 569.9,637.6 572.6,636.4 574.1,634.9 574.9,632.4 574.6,630.4 573.6,627.9 568.4,618.6 558.4,605.4 555.6,602.6 553.1,601.1 552.1,601.1 549.4,602.6 537.4,616.1 534.1,621.4Z"/><path fill-rule="evenodd" fill="#cc2cd3" d="M531.9,630.4 532.1,633.4 532.6,634.4 534.6,636.1 539.1,637.6 547.6,638.6 557.1,638.6 565.6,637.6 570.6,635.9 572.4,634.1 572.9,632.6 572.9,630.4 572.1,628.4 567.6,619.9 558.6,607.1 555.1,603.4 553.1,602.1 551.9,602.1 549.6,603.6 539.4,615.6 536.6,619.6 533.9,625.1Z"/><path fill-rule="evenodd" fill="#d532cd" d="M552.1,603.1 548.6,606.1 538.4,619.4 533.6,630.1 533.9,632.6 535.9,635.1 537.9,636.1 541.4,637.1 547.1,637.9 557.6,637.9 563.4,637.1 567.6,635.9 570.4,633.6 571.1,631.6 570.9,629.6 569.6,626.6 565.9,619.6 559.6,610.1 554.9,604.4 552.9,603.1Z"/><path fill-rule="evenodd" fill="#e23ac5" d="M552.1,604.4 550.1,605.9 540.1,619.4 537.9,623.6 535.9,628.6 535.4,630.6 535.6,631.9 536.6,633.6 537.9,634.6 540.6,635.9 545.4,636.9 549.9,637.4 554.9,637.4 560.9,636.6 564.9,635.6 566.9,634.6 568.9,632.4 569.1,629.9 568.4,627.9 564.1,619.4 558.6,610.6 554.1,605.1 552.9,604.4Z"/><path fill-rule="evenodd" fill="#eb40bf" d="M552.6,605.6 551.9,605.9 550.1,607.6 543.9,616.4 540.6,621.6 538.9,625.4 537.4,629.6 537.4,631.1 539.1,633.6 541.4,634.9 547.9,636.4 554.9,636.6 559.9,635.9 563.4,634.9 565.9,633.4 566.9,632.1 567.4,630.6 567.1,629.4 562.6,619.6 556.9,610.1 554.9,607.4Z"/><path fill-rule="evenodd" fill="#f546b9" d="M552.1,607.4 550.6,608.9 543.4,620.1 540.4,626.4 539.4,629.4 539.4,631.1 541.1,633.1 544.9,634.9 550.4,635.9 554.4,635.9 557.6,635.4 562.4,633.9 564.6,632.1 565.4,630.1 562.4,622.6 557.6,613.6 554.1,608.4 553.4,607.6Z"/><path fill-rule="evenodd" fill="#fe4cb3" d="M552.9,609.1 551.9,609.4 545.9,619.1 543.1,624.6 541.4,629.4 541.4,630.9 543.4,632.9 547.1,634.4 550.9,635.1 553.9,635.1 559.1,633.9 561.9,632.4 563.1,630.9 563.1,629.4 559.9,621.1 556.1,613.9Z"/><path fill-rule="evenodd" fill="#ff52ad" d="M552.9,611.6 552.4,611.6 551.6,612.4 548.1,618.6 545.1,624.9 543.4,629.9 543.6,630.9 545.9,632.6 551.9,634.4 554.4,634.1 557.6,633.1 559.6,632.1 561.1,630.4 560.1,626.6 557.9,620.9 554.1,613.4Z"/><path fill-rule="evenodd" fill="#ff5aa5" d="M552.4,614.9 547.4,624.9 545.9,629.1 545.9,630.6 549.1,632.6 553.1,633.4 557.6,631.6 558.9,630.4 558.9,629.6 554.9,618.6 553.1,615.1Z"/><path fill-rule="evenodd" fill="#ff609f" d="M552.4,619.1 551.1,621.4 549.1,626.6 548.4,630.4 550.6,631.9 552.6,632.4 555.6,631.1 556.4,630.4 556.4,628.9 553.4,620.1Z"/><path fill-rule="evenodd" fill="#ff6699" d="M552.4,625.6 550.9,629.9 551.9,630.9 553.1,630.9 553.9,630.1 553.9,628.9 553.1,626.4Z"/></g></g>
<text x="3.32" y="14.70" font-size="22.04" font-weight="bold" font-style="normal" fill="#000" textLength="10.71" lengthAdjust="spacingAndGlyphs">a</text>
<text x="64.43" y="11.40" font-size="12.97" font-weight="normal" font-style="normal" fill="#3a3a3a" textLength="214.43" lengthAdjust="spacingAndGlyphs">Partition b/w growing &amp; non-growing</text>
<text x="73.41" y="29.00" font-size="11.72" font-weight="normal" font-style="normal" fill="#3a3a3a" textLength="199.38" lengthAdjust="spacingAndGlyphs">cells in colony during development</text>
<rect x="62.4" y="38.8" width="224.6" height="169.8" fill="#000080"/>
<polygon points="61.7,38.8 103.7,38.8 116.3,84.9 133.8,125.0 142.8,145.5 168.4,173.3 182.0,182.0 195.7,187.0 221.8,191.9 287.0,200.0 287.0,209.3 61.7,209.3" fill="#228b22"/>
<text x="174.90" y="91.70" font-size="12.69" font-weight="bold" font-style="normal" fill="#8fb3ea" textLength="75.80" lengthAdjust="spacingAndGlyphs">Non-growing</text>
<text x="76.31" y="170.00" font-size="13.66" font-weight="bold" font-style="normal" fill="#2d5e0e" textLength="49.79" lengthAdjust="spacingAndGlyphs">Growing</text>
<line x1="50.80" y1="38.90" x2="58.80" y2="38.90" stroke="#000" stroke-width="2.0"/>
<text x="23.16" y="43.35" font-size="12.70" font-weight="normal" font-style="normal" fill="#000" textLength="21.19" lengthAdjust="spacingAndGlyphs">100</text>
<line x1="50.80" y1="72.90" x2="58.80" y2="72.90" stroke="#000" stroke-width="2.0"/>
<text x="30.21" y="77.35" font-size="12.70" font-weight="normal" font-style="normal" fill="#000" textLength="14.13" lengthAdjust="spacingAndGlyphs">80</text>
<line x1="50.80" y1="106.90" x2="58.80" y2="106.90" stroke="#000" stroke-width="2.0"/>
<text x="30.21" y="111.35" font-size="12.70" font-weight="normal" font-style="normal" fill="#000" textLength="14.13" lengthAdjust="spacingAndGlyphs">60</text>
<line x1="50.80" y1="140.90" x2="58.80" y2="140.90" stroke="#000" stroke-width="2.0"/>
<text x="30.21" y="145.35" font-size="12.70" font-weight="normal" font-style="normal" fill="#000" textLength="14.13" lengthAdjust="spacingAndGlyphs">40</text>
<line x1="50.80" y1="174.90" x2="58.80" y2="174.90" stroke="#000" stroke-width="2.0"/>
<text x="30.21" y="179.35" font-size="12.70" font-weight="normal" font-style="normal" fill="#000" textLength="14.13" lengthAdjust="spacingAndGlyphs">20</text>
<line x1="50.80" y1="208.90" x2="58.80" y2="208.90" stroke="#000" stroke-width="2.0"/>
<text x="37.26" y="213.35" font-size="12.70" font-weight="normal" font-style="normal" fill="#000" textLength="7.06" lengthAdjust="spacingAndGlyphs">0</text>
<line x1="57.80" y1="208.00" x2="57.80" y2="216.50" stroke="#000" stroke-width="2.0"/>
<text x="54.90" y="233.60" font-size="12.60" font-weight="normal" font-style="normal" fill="#000" textLength="7.01" lengthAdjust="spacingAndGlyphs">0</text>
<line x1="101.90" y1="209.30" x2="101.90" y2="216.50" stroke="#000" stroke-width="2.0"/>
<text x="95.29" y="233.60" font-size="12.60" font-weight="normal" font-style="normal" fill="#000" textLength="14.02" lengthAdjust="spacingAndGlyphs">10</text>
<line x1="146.00" y1="209.30" x2="146.00" y2="216.50" stroke="#000" stroke-width="2.0"/>
<text x="139.54" y="233.60" font-size="12.60" font-weight="normal" font-style="normal" fill="#000" textLength="14.02" lengthAdjust="spacingAndGlyphs">20</text>
<line x1="190.10" y1="209.30" x2="190.10" y2="216.50" stroke="#000" stroke-width="2.0"/>
<text x="183.71" y="233.60" font-size="12.60" font-weight="normal" font-style="normal" fill="#000" textLength="14.02" lengthAdjust="spacingAndGlyphs">30</text>
<line x1="234.20" y1="209.30" x2="234.20" y2="216.50" stroke="#000" stroke-width="2.0"/>
<text x="227.90" y="233.60" font-size="12.60" font-weight="normal" font-style="normal" fill="#000" textLength="14.02" lengthAdjust="spacingAndGlyphs">40</text>
<line x1="278.30" y1="209.30" x2="278.30" y2="216.50" stroke="#000" stroke-width="2.0"/>
<text x="271.91" y="233.60" font-size="12.60" font-weight="normal" font-style="normal" fill="#000" textLength="14.02" lengthAdjust="spacingAndGlyphs">50</text>
<text x="131.10" y="254.60" font-size="13.52" font-weight="normal" font-style="normal" fill="#000" textLength="84.21" lengthAdjust="spacingAndGlyphs">Time (hours)</text>
<text transform="translate(7.00,123.40) rotate(-90)" x="-30.91" y="5.11" font-size="14.29" font-weight="normal" font-style="normal" fill="#000" textLength="61.80" lengthAdjust="spacingAndGlyphs">% of cells</text>
<text x="1.97" y="284.50" font-size="22.62" font-weight="bold" font-style="normal" fill="#000" textLength="13.43" lengthAdjust="spacingAndGlyphs">b</text>
<rect x="61.4" y="282.2" width="226.3" height="165.4" fill="#e4e4e4"/>
<rect x="63.8" y="285.1" width="221.5" height="160" fill="#f1f1f1"/>
<rect x="63.8" y="285.1" width="221.5" height="37.9" fill="#ffe582"/>
<rect x="63.8" y="323" width="221.5" height="2.6" fill="#e6e6e6"/>
<text x="70.45" y="307.40" font-size="12.97" font-weight="normal" font-style="normal" fill="#2a2a2a" textLength="209.43" lengthAdjust="spacingAndGlyphs">Model for tracking starvation of cells</text>
<text x="65.05" y="342.70" font-size="11.74" font-weight="normal" font-style="normal" fill="#2a2a2a" textLength="4.78" lengthAdjust="spacingAndGlyphs">*</text>
<text x="75.47" y="343.00" font-size="11.86" font-weight="normal" font-style="italic" fill="#2a2a2a" textLength="30.58" lengthAdjust="spacingAndGlyphs">Deficit</text>
<text x="76.21" y="358.00" font-size="12.83" font-weight="normal" font-style="italic" fill="#2a2a2a" textLength="29.04" lengthAdjust="spacingAndGlyphs">of cell</text>
<text x="119.02" y="346.40" font-size="12.50" font-weight="normal" font-style="normal" fill="#2a2a2a" textLength="6.74" lengthAdjust="spacingAndGlyphs">=</text>
<text x="133.77" y="348.10" font-size="11.72" font-weight="normal" font-style="normal" fill="#2a2a2a" textLength="33.59" lengthAdjust="spacingAndGlyphs">max(Q</text>
<text x="166.71" y="352.10" font-size="9.50" font-weight="normal" font-style="normal" fill="#2a2a2a" textLength="18.33" lengthAdjust="spacingAndGlyphs">maint</text>
<text x="189.89" y="348.00" font-size="12.50" font-weight="normal" font-style="normal" fill="#2a2a2a" textLength="3.81" lengthAdjust="spacingAndGlyphs">-</text>
<text x="198.66" y="347.80" font-size="11.03" font-weight="normal" font-style="normal" fill="#2a2a2a" textLength="75.37" lengthAdjust="spacingAndGlyphs">Uptake flux , 0)</text>
<path d="M165.9,357.9 L167.9,355.6 L169.9,357.9" fill="none" stroke="#1a1a1a" stroke-width="1.2"/>
<line x1="167.90" y1="356.20" x2="167.90" y2="363.60" stroke="#555" stroke-width="1.1"/>
<path d="M235.4,357.6 L237.4,355.3 L239.4,357.6" fill="none" stroke="#1a1a1a" stroke-width="1.2"/>
<line x1="237.40" y1="355.90" x2="237.40" y2="363.30" stroke="#555" stroke-width="1.1"/>
<text x="123.79" y="371.40" font-size="8.20" font-weight="normal" font-style="italic" fill="#2a2a2a" textLength="57.39" lengthAdjust="spacingAndGlyphs">maintenance rate</text>
<text x="216.64" y="371.50" font-size="8.20" font-weight="normal" font-style="italic" fill="#2a2a2a" textLength="38.61" lengthAdjust="spacingAndGlyphs">depends on</text>
<text x="189.29" y="381.40" font-size="8.20" font-weight="normal" font-style="italic" fill="#2a2a2a" textLength="93.88" lengthAdjust="spacingAndGlyphs">local nutrient concentrations</text>
<text x="65.05" y="401.60" font-size="11.01" font-weight="normal" font-style="normal" fill="#2a2a2a" textLength="4.78" lengthAdjust="spacingAndGlyphs">*</text>
<text x="75.06" y="401.90" font-size="11.45" font-weight="normal" font-style="italic" fill="#2a2a2a" textLength="51.18" lengthAdjust="spacingAndGlyphs">Starvation</text>
<text x="71.50" y="417.70" font-size="12.14" font-weight="normal" font-style="italic" fill="#2a2a2a" textLength="54.08" lengthAdjust="spacingAndGlyphs">duration of</text>
<text x="68.41" y="432.60" font-size="11.59" font-weight="normal" font-style="italic" fill="#2a2a2a" textLength="62.76" lengthAdjust="spacingAndGlyphs">cell at time T</text>
<text x="163.15" y="414.90" font-size="12.50" font-weight="normal" font-style="normal" fill="#2a2a2a" textLength="6.38" lengthAdjust="spacingAndGlyphs">=</text>
<text x="195.41" y="395.30" font-size="10.58" font-weight="normal" font-style="normal" fill="#2a2a2a" textLength="5.68" lengthAdjust="spacingAndGlyphs">T</text>
<path d="M200.2,400.9 C198.4,399.8 196.5,400.6 196.5,403.5 L196.5,422 C196.5,424.8 194.5,425.6 192.4,425.1" fill="none" stroke="#1a1a1a" stroke-width="1.8"/>
<text x="208.27" y="416.60" font-size="11.03" font-weight="normal" font-style="normal" fill="#2a2a2a" textLength="59.31" lengthAdjust="spacingAndGlyphs">Deficit (t) dt</text>
<line x1="209.20" y1="419.20" x2="253.50" y2="419.20" stroke="#2a2a2a" stroke-width="1.0"/>
<text x="217.51" y="428.20" font-size="10.29" font-weight="normal" font-style="normal" fill="#2a2a2a" textLength="8.40" lengthAdjust="spacingAndGlyphs">Q</text>
<text x="225.11" y="430.60" font-size="9.50" font-weight="normal" font-style="normal" fill="#2a2a2a" textLength="18.33" lengthAdjust="spacingAndGlyphs">maint</text>
<text x="187.82" y="439.70" font-size="10.90" font-weight="normal" font-style="italic" fill="#2a2a2a" textLength="23.22" lengthAdjust="spacingAndGlyphs">birth</text>
<defs><linearGradient id="cbar" x1="0" x2="1" y1="0" y2="0"><stop offset="0.000" stop-color="#000000"/><stop offset="0.025" stop-color="#000018"/><stop offset="0.050" stop-color="#000030"/><stop offset="0.075" stop-color="#00004c"/><stop offset="0.100" stop-color="#000064"/><stop offset="0.125" stop-color="#000080"/><stop offset="0.150" stop-color="#000098"/><stop offset="0.175" stop-color="#0000b0"/><stop offset="0.200" stop-color="#0000cc"/><stop offset="0.225" stop-color="#0000e4"/><stop offset="0.250" stop-color="#0100ff"/><stop offset="0.275" stop-color="#1400ff"/><stop offset="0.300" stop-color="#2600ff"/><stop offset="0.325" stop-color="#3c00ff"/><stop offset="0.350" stop-color="#4f00ff"/><stop offset="0.375" stop-color="#6500ff"/><stop offset="0.400" stop-color="#7800ff"/><stop offset="0.425" stop-color="#8a02fd"/><stop offset="0.450" stop-color="#a010ef"/><stop offset="0.475" stop-color="#b31ce3"/><stop offset="0.500" stop-color="#c92ad5"/><stop offset="0.525" stop-color="#dc36c9"/><stop offset="0.550" stop-color="#ee42bd"/><stop offset="0.575" stop-color="#ff50af"/><stop offset="0.600" stop-color="#ff5ca3"/><stop offset="0.625" stop-color="#ff6a95"/><stop offset="0.650" stop-color="#ff7689"/><stop offset="0.675" stop-color="#ff827d"/><stop offset="0.700" stop-color="#ff906f"/><stop offset="0.725" stop-color="#ff9c63"/><stop offset="0.750" stop-color="#ffaa55"/><stop offset="0.775" stop-color="#ffb649"/><stop offset="0.800" stop-color="#ffc23d"/><stop offset="0.825" stop-color="#ffd02f"/><stop offset="0.850" stop-color="#ffdc23"/><stop offset="0.875" stop-color="#ffea15"/><stop offset="0.900" stop-color="#fff609"/><stop offset="0.925" stop-color="#ffff11"/><stop offset="0.950" stop-color="#ffff69"/><stop offset="0.975" stop-color="#ffffb4"/><stop offset="1.000" stop-color="#ffffff"/></linearGradient></defs>
<rect x="421.8" y="16.8" width="239.2" height="11.1" fill="url(#cbar)"/>
<text x="476.35" y="10.40" font-size="12.14" font-weight="normal" font-style="normal" fill="#3a3a3a" textLength="140.67" lengthAdjust="spacingAndGlyphs">C-starvation duration (h)</text>
<line x1="422.50" y1="27.90" x2="422.50" y2="34.40" stroke="#000" stroke-width="1.6"/>
<text x="415.78" y="48.00" font-size="11.59" font-weight="normal" font-style="normal" fill="#000" textLength="18.07" lengthAdjust="spacingAndGlyphs">0 h</text>
<line x1="482.18" y1="27.90" x2="482.18" y2="34.40" stroke="#000" stroke-width="1.6"/>
<text x="472.90" y="48.00" font-size="11.59" font-weight="normal" font-style="normal" fill="#000" textLength="25.99" lengthAdjust="spacingAndGlyphs">10 h</text>
<line x1="541.86" y1="27.90" x2="541.86" y2="34.40" stroke="#000" stroke-width="1.6"/>
<text x="532.05" y="48.00" font-size="11.59" font-weight="normal" font-style="normal" fill="#000" textLength="25.42" lengthAdjust="spacingAndGlyphs">20 h</text>
<line x1="601.54" y1="27.90" x2="601.54" y2="34.40" stroke="#000" stroke-width="1.6"/>
<text x="592.98" y="48.00" font-size="11.59" font-weight="normal" font-style="normal" fill="#000" textLength="25.18" lengthAdjust="spacingAndGlyphs">30 h</text>
<line x1="661.22" y1="27.90" x2="661.22" y2="34.40" stroke="#000" stroke-width="1.6"/>
<text x="651.58" y="48.00" font-size="11.59" font-weight="normal" font-style="normal" fill="#000" textLength="24.66" lengthAdjust="spacingAndGlyphs">40 h</text>
<text x="382.04" y="81.50" font-size="22.59" font-weight="bold" font-style="normal" fill="#000" textLength="10.55" lengthAdjust="spacingAndGlyphs">c</text>
<text x="460.35" y="80.40" font-size="12.97" font-weight="normal" font-style="normal" fill="#3a3a3a" textLength="170.70" lengthAdjust="spacingAndGlyphs">Carbon starvation at 10 hours</text>
<line x1="387.80" y1="99.30" x2="394.90" y2="99.30" stroke="#000" stroke-width="1.8"/>
<text x="349.30" y="103.70" font-size="12.60" font-weight="normal" font-style="normal" fill="#000" textLength="31.53" lengthAdjust="spacingAndGlyphs">200.0</text>
<line x1="387.80" y1="146.60" x2="394.90" y2="146.60" stroke="#000" stroke-width="1.8"/>
<text x="363.29" y="151.00" font-size="12.60" font-weight="normal" font-style="normal" fill="#000" textLength="17.52" lengthAdjust="spacingAndGlyphs">0.0</text>
<line x1="473.40" y1="147.60" x2="473.40" y2="153.80" stroke="#000" stroke-width="1.8"/>
<text x="456.94" y="171.60" font-size="12.86" font-weight="normal" font-style="normal" fill="#000" textLength="32.89" lengthAdjust="spacingAndGlyphs">-1000</text>
<line x1="552.30" y1="147.60" x2="552.30" y2="153.80" stroke="#000" stroke-width="1.8"/>
<text x="548.73" y="171.60" font-size="12.86" font-weight="normal" font-style="normal" fill="#000" textLength="7.15" lengthAdjust="spacingAndGlyphs">0</text>
<line x1="631.00" y1="147.60" x2="631.00" y2="153.80" stroke="#000" stroke-width="1.8"/>
<text x="616.47" y="171.60" font-size="12.86" font-weight="normal" font-style="normal" fill="#000" textLength="28.60" lengthAdjust="spacingAndGlyphs">1000</text>
<text x="529.21" y="192.90" font-size="15.28" font-weight="normal" font-style="normal" fill="#000" textLength="6.32" lengthAdjust="spacingAndGlyphs">x</text>
<text x="538.97" y="192.90" font-size="15.20" font-weight="normal" font-style="normal" fill="#000" textLength="5.15" lengthAdjust="spacingAndGlyphs">(</text>
<text x="541.90" y="192.90" font-size="15.00" font-weight="normal" font-style="italic" fill="#000" textLength="27.87" lengthAdjust="spacingAndGlyphs">µm</text>
<text x="570.14" y="192.90" font-size="15.20" font-weight="normal" font-style="normal" fill="#000" textLength="5.25" lengthAdjust="spacingAndGlyphs">)</text>
<text x="-122.68" y="335.70" font-size="14.34" font-weight="normal" font-style="normal" fill="#000" textLength="7.20" lengthAdjust="spacingAndGlyphs" transform="rotate(-90)">z</text>
<text x="-113.51" y="335.70" font-size="15.20" font-weight="normal" font-style="normal" fill="#000" textLength="5.03" lengthAdjust="spacingAndGlyphs" transform="rotate(-90)">(</text>
<text x="-107.70" y="335.70" font-size="14.07" font-weight="normal" font-style="italic" fill="#000" textLength="25.90" lengthAdjust="spacingAndGlyphs" transform="rotate(-90)">µm</text>
<text x="-81.55" y="335.70" font-size="15.20" font-weight="normal" font-style="normal" fill="#000" textLength="5.12" lengthAdjust="spacingAndGlyphs" transform="rotate(-90)">)</text>
<text x="380.88" y="239.70" font-size="22.34" font-weight="bold" font-style="normal" fill="#000" textLength="13.25" lengthAdjust="spacingAndGlyphs">d</text>
<text x="460.35" y="236.60" font-size="12.97" font-weight="normal" font-style="normal" fill="#3a3a3a" textLength="170.70" lengthAdjust="spacingAndGlyphs">Carbon starvation at 20 hours</text>
<line x1="387.80" y1="270.70" x2="394.90" y2="270.70" stroke="#000" stroke-width="1.8"/>
<text x="349.30" y="275.10" font-size="12.60" font-weight="normal" font-style="normal" fill="#000" textLength="31.53" lengthAdjust="spacingAndGlyphs">200.0</text>
<line x1="387.80" y1="318.10" x2="394.90" y2="318.10" stroke="#000" stroke-width="1.8"/>
<text x="363.29" y="322.50" font-size="12.60" font-weight="normal" font-style="normal" fill="#000" textLength="17.52" lengthAdjust="spacingAndGlyphs">0.0</text>
<line x1="473.40" y1="319.10" x2="473.40" y2="325.30" stroke="#000" stroke-width="1.8"/>
<text x="456.94" y="343.10" font-size="12.86" font-weight="normal" font-style="normal" fill="#000" textLength="32.89" lengthAdjust="spacingAndGlyphs">-1000</text>
<line x1="552.30" y1="319.10" x2="552.30" y2="325.30" stroke="#000" stroke-width="1.8"/>
<text x="548.73" y="343.10" font-size="12.86" font-weight="normal" font-style="normal" fill="#000" textLength="7.15" lengthAdjust="spacingAndGlyphs">0</text>
<line x1="631.00" y1="319.10" x2="631.00" y2="325.30" stroke="#000" stroke-width="1.8"/>
<text x="616.47" y="343.10" font-size="12.86" font-weight="normal" font-style="normal" fill="#000" textLength="28.60" lengthAdjust="spacingAndGlyphs">1000</text>
<text x="529.21" y="364.40" font-size="15.28" font-weight="normal" font-style="normal" fill="#000" textLength="6.32" lengthAdjust="spacingAndGlyphs">x</text>
<text x="538.97" y="364.40" font-size="15.20" font-weight="normal" font-style="normal" fill="#000" textLength="5.15" lengthAdjust="spacingAndGlyphs">(</text>
<text x="541.90" y="364.40" font-size="15.00" font-weight="normal" font-style="italic" fill="#000" textLength="27.87" lengthAdjust="spacingAndGlyphs">µm</text>
<text x="570.14" y="364.40" font-size="15.20" font-weight="normal" font-style="normal" fill="#000" textLength="5.25" lengthAdjust="spacingAndGlyphs">)</text>
<text x="-294.18" y="335.70" font-size="14.34" font-weight="normal" font-style="normal" fill="#000" textLength="7.20" lengthAdjust="spacingAndGlyphs" transform="rotate(-90)">z</text>
<text x="-285.01" y="335.70" font-size="15.20" font-weight="normal" font-style="normal" fill="#000" textLength="5.03" lengthAdjust="spacingAndGlyphs" transform="rotate(-90)">(</text>
<text x="-279.20" y="335.70" font-size="14.07" font-weight="normal" font-style="italic" fill="#000" textLength="25.90" lengthAdjust="spacingAndGlyphs" transform="rotate(-90)">µm</text>
<text x="-253.05" y="335.70" font-size="15.20" font-weight="normal" font-style="normal" fill="#000" textLength="5.12" lengthAdjust="spacingAndGlyphs" transform="rotate(-90)">)</text>
<text x="380.88" y="403.80" font-size="22.59" font-weight="bold" font-style="normal" fill="#000" textLength="12.11" lengthAdjust="spacingAndGlyphs">e</text>
<text x="460.35" y="403.10" font-size="12.97" font-weight="normal" font-style="normal" fill="#3a3a3a" textLength="170.70" lengthAdjust="spacingAndGlyphs">Carbon starvation at 30 hours</text>
<line x1="387.80" y1="434.60" x2="394.90" y2="434.60" stroke="#000" stroke-width="1.8"/>
<text x="349.30" y="439.00" font-size="12.60" font-weight="normal" font-style="normal" fill="#000" textLength="31.53" lengthAdjust="spacingAndGlyphs">200.0</text>
<line x1="387.80" y1="481.70" x2="394.90" y2="481.70" stroke="#000" stroke-width="1.8"/>
<text x="363.29" y="486.10" font-size="12.60" font-weight="normal" font-style="normal" fill="#000" textLength="17.52" lengthAdjust="spacingAndGlyphs">0.0</text>
<line x1="473.40" y1="482.70" x2="473.40" y2="488.90" stroke="#000" stroke-width="1.8"/>
<text x="456.94" y="506.70" font-size="12.86" font-weight="normal" font-style="normal" fill="#000" textLength="32.89" lengthAdjust="spacingAndGlyphs">-1000</text>
<line x1="552.30" y1="482.70" x2="552.30" y2="488.90" stroke="#000" stroke-width="1.8"/>
<text x="548.73" y="506.70" font-size="12.86" font-weight="normal" font-style="normal" fill="#000" textLength="7.15" lengthAdjust="spacingAndGlyphs">0</text>
<line x1="631.00" y1="482.70" x2="631.00" y2="488.90" stroke="#000" stroke-width="1.8"/>
<text x="616.47" y="506.70" font-size="12.86" font-weight="normal" font-style="normal" fill="#000" textLength="28.60" lengthAdjust="spacingAndGlyphs">1000</text>
<text x="529.21" y="528.00" font-size="15.28" font-weight="normal" font-style="normal" fill="#000" textLength="6.32" lengthAdjust="spacingAndGlyphs">x</text>
<text x="538.97" y="528.00" font-size="15.20" font-weight="normal" font-style="normal" fill="#000" textLength="5.15" lengthAdjust="spacingAndGlyphs">(</text>
<text x="541.90" y="528.00" font-size="15.00" font-weight="normal" font-style="italic" fill="#000" textLength="27.87" lengthAdjust="spacingAndGlyphs">µm</text>
<text x="570.14" y="528.00" font-size="15.20" font-weight="normal" font-style="normal" fill="#000" textLength="5.25" lengthAdjust="spacingAndGlyphs">)</text>
<text x="-457.78" y="335.70" font-size="14.34" font-weight="normal" font-style="normal" fill="#000" textLength="7.20" lengthAdjust="spacingAndGlyphs" transform="rotate(-90)">z</text>
<text x="-448.61" y="335.70" font-size="15.20" font-weight="normal" font-style="normal" fill="#000" textLength="5.03" lengthAdjust="spacingAndGlyphs" transform="rotate(-90)">(</text>
<text x="-442.80" y="335.70" font-size="14.07" font-weight="normal" font-style="italic" fill="#000" textLength="25.90" lengthAdjust="spacingAndGlyphs" transform="rotate(-90)">µm</text>
<text x="-416.65" y="335.70" font-size="15.20" font-weight="normal" font-style="normal" fill="#000" textLength="5.12" lengthAdjust="spacingAndGlyphs" transform="rotate(-90)">)</text>
<text x="383.04" y="563.70" font-size="23.45" font-weight="bold" font-style="normal" fill="#000" textLength="8.01" lengthAdjust="spacingAndGlyphs">f</text>
<text x="460.35" y="560.20" font-size="12.97" font-weight="normal" font-style="normal" fill="#3a3a3a" textLength="170.70" lengthAdjust="spacingAndGlyphs">Carbon starvation at 40 hours</text>
<line x1="387.80" y1="610.50" x2="394.90" y2="610.50" stroke="#000" stroke-width="1.8"/>
<text x="349.30" y="614.90" font-size="12.60" font-weight="normal" font-style="normal" fill="#000" textLength="31.53" lengthAdjust="spacingAndGlyphs">200.0</text>
<line x1="387.80" y1="657.60" x2="394.90" y2="657.60" stroke="#000" stroke-width="1.8"/>
<text x="363.29" y="662.00" font-size="12.60" font-weight="normal" font-style="normal" fill="#000" textLength="17.52" lengthAdjust="spacingAndGlyphs">0.0</text>
<line x1="473.40" y1="658.60" x2="473.40" y2="664.80" stroke="#000" stroke-width="1.8"/>
<text x="456.94" y="682.60" font-size="12.86" font-weight="normal" font-style="normal" fill="#000" textLength="32.89" lengthAdjust="spacingAndGlyphs">-1000</text>
<line x1="552.30" y1="658.60" x2="552.30" y2="664.80" stroke="#000" stroke-width="1.8"/>
<text x="548.73" y="682.60" font-size="12.86" font-weight="normal" font-style="normal" fill="#000" textLength="7.15" lengthAdjust="spacingAndGlyphs">0</text>
<line x1="631.00" y1="658.60" x2="631.00" y2="664.80" stroke="#000" stroke-width="1.8"/>
<text x="616.47" y="682.60" font-size="12.86" font-weight="normal" font-style="normal" fill="#000" textLength="28.60" lengthAdjust="spacingAndGlyphs">1000</text>
<text x="529.21" y="703.90" font-size="15.28" font-weight="normal" font-style="normal" fill="#000" textLength="6.32" lengthAdjust="spacingAndGlyphs">x</text>
<text x="538.97" y="703.90" font-size="15.20" font-weight="normal" font-style="normal" fill="#000" textLength="5.15" lengthAdjust="spacingAndGlyphs">(</text>
<text x="541.90" y="703.90" font-size="15.00" font-weight="normal" font-style="italic" fill="#000" textLength="27.87" lengthAdjust="spacingAndGlyphs">µm</text>
<text x="570.14" y="703.90" font-size="15.20" font-weight="normal" font-style="normal" fill="#000" textLength="5.25" lengthAdjust="spacingAndGlyphs">)</text>
<text x="-633.68" y="335.70" font-size="14.34" font-weight="normal" font-style="normal" fill="#000" textLength="7.20" lengthAdjust="spacingAndGlyphs" transform="rotate(-90)">z</text>
<text x="-624.51" y="335.70" font-size="15.20" font-weight="normal" font-style="normal" fill="#000" textLength="5.03" lengthAdjust="spacingAndGlyphs" transform="rotate(-90)">(</text>
<text x="-618.70" y="335.70" font-size="14.07" font-weight="normal" font-style="italic" fill="#000" textLength="25.90" lengthAdjust="spacingAndGlyphs" transform="rotate(-90)">µm</text>
<text x="-592.55" y="335.70" font-size="15.20" font-weight="normal" font-style="normal" fill="#000" textLength="5.12" lengthAdjust="spacingAndGlyphs" transform="rotate(-90)">)</text>
<text font-family="Liberation Serif" x="2.71" y="476.30" font-size="22.35" font-weight="bold" font-style="normal" fill="#000" textLength="11.72" lengthAdjust="spacingAndGlyphs">g</text>
<text x="81.06" y="479.90" font-size="12.69" font-weight="normal" font-style="normal" fill="#3a3a3a" textLength="175.75" lengthAdjust="spacingAndGlyphs">C-starvation of cells along (0,z)</text>
<line x1="62.30" y1="490.20" x2="62.30" y2="659.20" stroke="#222" stroke-width="1.3"/>
<line x1="61.60" y1="658.60" x2="291.30" y2="658.60" stroke="#222" stroke-width="1.3"/>
<line x1="55.10" y1="640.30" x2="62.30" y2="640.30" stroke="#000" stroke-width="1.8"/>
<text x="41.21" y="644.70" font-size="12.60" font-weight="normal" font-style="normal" fill="#000" textLength="7.01" lengthAdjust="spacingAndGlyphs">0</text>
<line x1="55.10" y1="603.40" x2="62.30" y2="603.40" stroke="#000" stroke-width="1.8"/>
<text x="34.22" y="607.80" font-size="12.60" font-weight="normal" font-style="normal" fill="#000" textLength="14.02" lengthAdjust="spacingAndGlyphs">10</text>
<line x1="55.10" y1="566.50" x2="62.30" y2="566.50" stroke="#000" stroke-width="1.8"/>
<text x="34.22" y="570.90" font-size="12.60" font-weight="normal" font-style="normal" fill="#000" textLength="14.02" lengthAdjust="spacingAndGlyphs">20</text>
<line x1="55.10" y1="529.60" x2="62.30" y2="529.60" stroke="#000" stroke-width="1.8"/>
<text x="34.22" y="534.00" font-size="12.60" font-weight="normal" font-style="normal" fill="#000" textLength="14.02" lengthAdjust="spacingAndGlyphs">30</text>
<line x1="55.10" y1="492.70" x2="62.30" y2="492.70" stroke="#000" stroke-width="1.8"/>
<text x="34.22" y="497.10" font-size="12.60" font-weight="normal" font-style="normal" fill="#000" textLength="14.02" lengthAdjust="spacingAndGlyphs">40</text>
<line x1="72.80" y1="658.60" x2="72.80" y2="665.60" stroke="#000" stroke-width="1.8"/>
<text x="69.35" y="682.70" font-size="12.43" font-weight="normal" font-style="normal" fill="#000" textLength="6.91" lengthAdjust="spacingAndGlyphs">0</text>
<line x1="115.54" y1="658.60" x2="115.54" y2="665.60" stroke="#000" stroke-width="1.8"/>
<text x="108.58" y="682.70" font-size="12.43" font-weight="normal" font-style="normal" fill="#000" textLength="13.82" lengthAdjust="spacingAndGlyphs">20</text>
<line x1="158.28" y1="658.60" x2="158.28" y2="665.60" stroke="#000" stroke-width="1.8"/>
<text x="151.48" y="682.70" font-size="12.43" font-weight="normal" font-style="normal" fill="#000" textLength="13.82" lengthAdjust="spacingAndGlyphs">40</text>
<line x1="201.02" y1="658.60" x2="201.02" y2="665.60" stroke="#000" stroke-width="1.8"/>
<text x="194.06" y="682.70" font-size="12.43" font-weight="normal" font-style="normal" fill="#000" textLength="13.82" lengthAdjust="spacingAndGlyphs">60</text>
<line x1="243.76" y1="658.60" x2="243.76" y2="665.60" stroke="#000" stroke-width="1.8"/>
<text x="236.83" y="682.70" font-size="12.43" font-weight="normal" font-style="normal" fill="#000" textLength="13.82" lengthAdjust="spacingAndGlyphs">80</text>
<line x1="286.50" y1="658.60" x2="286.50" y2="665.60" stroke="#000" stroke-width="1.8"/>
<text x="275.94" y="682.70" font-size="12.43" font-weight="normal" font-style="normal" fill="#000" textLength="20.74" lengthAdjust="spacingAndGlyphs">100</text>
<text x="114.87" y="704.80" font-size="15.86" font-weight="normal" font-style="normal" fill="#000" textLength="122.83" lengthAdjust="spacingAndGlyphs">% of colony height</text>
<text transform="translate(19.20,573.00) rotate(-90)" x="-81.76" y="3.94" font-size="15.29" font-weight="normal" font-style="normal" fill="#000" textLength="163.71" lengthAdjust="spacingAndGlyphs">C-starvation duration (h)</text>
<polyline points="70.5,640.4 267.1,640.4" fill="none" stroke="#440154" stroke-width="4.0" stroke-linejoin="round"/>
<polyline points="70.5,640.4 78.0,640.4 86.1,636.4 91.6,635.0 97.1,632.8 103.5,630.0 108.1,628.6 114.5,628.2 119.1,625.4 125.1,624.5 128.9,622.0 135.3,621.4 140.3,618.2 151.8,617.5 156.9,614.4 167.0,613.7 172.1,610.5 180.0,609.9 186.5,609.9 192.1,606.6 202.0,606.6 209.1,608.9 216.1,610.6 223.2,614.1 228.8,619.8 236.0,626.0 240.4,629.5 245.6,633.6 250.8,634.1 265.6,633.3 279.0,632.6" fill="none" stroke="#33638d" stroke-width="4.0" stroke-linejoin="round"/>
<polyline points="70.5,640.4 77.0,640.4 83.0,633.5 87.9,628.6 92.5,625.4 97.1,623.6 102.6,621.3 106.3,620.8 110.9,617.2 116.4,611.7 120.0,609.9 127.6,604.8 134.0,601.0 141.6,597.8 148.0,594.0 151.8,591.5 158.1,589.6 163.2,587.7 165.8,585.1 169.6,584.5 174.7,582.0 178.0,580.9 183.6,580.2 189.3,578.4 194.9,579.8 199.2,578.4 204.8,580.2 211.9,581.6 216.1,580.7 221.8,583.1 227.4,586.6 231.6,586.3 236.0,588.1 239.7,589.6 243.4,596.3 247.9,597.8 256.0,605.9 265.6,604.4 274.5,603.0 282.7,602.7" fill="none" stroke="#22a884" stroke-width="4.0" stroke-linejoin="round"/>
<polyline points="70.5,640.4 76.0,640.4 83.3,632.8 92.5,618.5 96.2,615.3 99.9,613.5 103.5,609.4 109.0,604.8 114.5,599.3 120.0,593.5 125.1,590.2 131.4,585.1 136.5,582.0 145.4,573.7 149.2,571.1 154.3,567.3 159.4,564.2 165.8,559.1 170.8,556.5 175.9,552.7 180.0,551.2 182.2,550.6 186.5,548.8 190.7,549.9 193.5,549.2 199.2,552.0 206.2,553.4 211.9,552.0 220.4,551.3 226.0,549.6 230.2,551.0 234.5,554.1 238.0,555.2 241.9,554.1 247.9,556.3 250.1,559.3 251.6,565.2 255.3,565.9 260.4,571.1 265.6,570.4 273.0,568.9 281.9,567.9" fill="none" stroke="#bcdf27" stroke-width="4.0" stroke-linejoin="round"/>
<text x="168.00" y="542.40" font-size="14.34" font-weight="bold" font-style="normal" fill="#55cc14" textLength="26.09" lengthAdjust="spacingAndGlyphs">40 h</text>
<text x="167.98" y="573.70" font-size="14.21" font-weight="bold" font-style="normal" fill="#239b50" textLength="25.91" lengthAdjust="spacingAndGlyphs">30 h</text>
<text x="167.74" y="601.80" font-size="14.34" font-weight="bold" font-style="normal" fill="#2d5aa5" textLength="26.16" lengthAdjust="spacingAndGlyphs">20 h</text>
<text x="167.65" y="635.60" font-size="14.07" font-weight="bold" font-style="normal" fill="#0a0a5a" textLength="26.25" lengthAdjust="spacingAndGlyphs">10 h</text>
</svg></body></html>
